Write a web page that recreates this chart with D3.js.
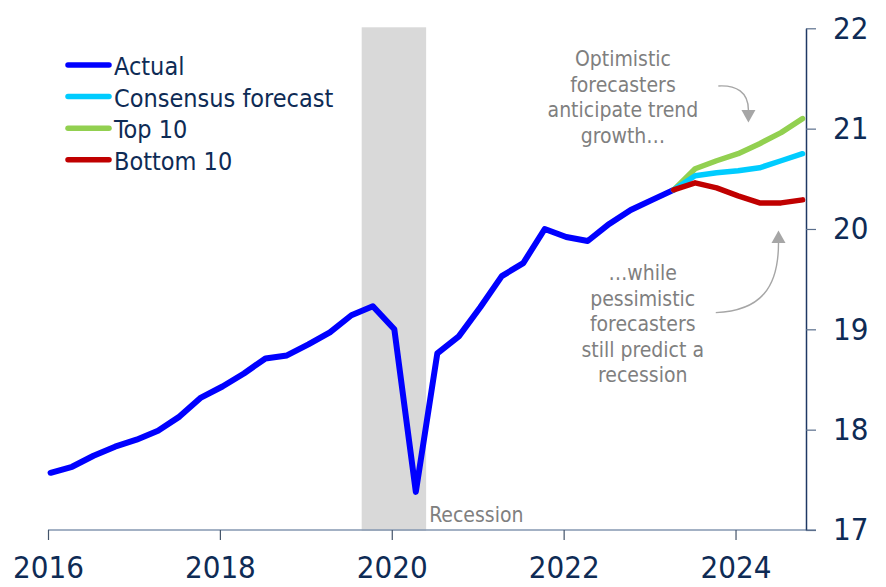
<!DOCTYPE html>
<html>
<head>
<meta charset="utf-8">
<script src="https://cdn.jsdelivr.net/npm/d3@7"></script>
<style>
  body { margin: 0; background: #fff; }
  svg text { font-family: "DejaVu Sans Condensed", "DejaVu Sans", sans-serif; font-stretch: condensed; }
</style>
</head>
<body>
<div id="run"></div>
<script>
var width = 886,
    height = 587;

// quarterly data, 2016Q1 .. 2023Q2 actual, 2023Q2 .. 2024Q4 forecasts
var actualQuarters = ["2016Q1","2016Q2","2016Q3","2016Q4","2017Q1","2017Q2","2017Q3","2017Q4",
    "2018Q1","2018Q2","2018Q3","2018Q4","2019Q1","2019Q2","2019Q3","2019Q4",
    "2020Q1","2020Q2","2020Q3","2020Q4","2021Q1","2021Q2","2021Q3","2021Q4",
    "2022Q1","2022Q2","2022Q3","2022Q4","2023Q1","2023Q2"];
var actual = [17.57, 17.63, 17.74, 17.83, 17.90, 17.99, 18.13, 18.32,
    18.43, 18.56, 18.71, 18.74, 18.85, 18.97, 19.14, 19.23,
    19.00, 17.38, 18.76, 18.93, 19.22, 19.53, 19.66, 20.00,
    19.92, 19.88, 20.05, 20.19, 20.29, 20.39];

var forecastQuarters = ["2023Q2","2023Q3","2023Q4","2024Q1","2024Q2","2024Q3","2024Q4"];
var top10     = [20.39, 20.60, 20.68, 20.75, 20.85, 20.96, 21.10];
var consensus = [20.39, 20.53, 20.56, 20.58, 20.61, 20.68, 20.75];
var bottom10  = [20.39, 20.46, 20.41, 20.33, 20.26, 20.26, 20.29];

var xTicks = [2016, 2018, 2020, 2022, 2024];
var yTicks = [17, 18, 19, 20, 21, 22];
var recession = [2019.65, 2020.40];

var seriesNames = ["Actual", "Consensus forecast", "Top 10", "Bottom 10"];
var seriesColors = ["#0000ff", "#00ccff", "#92d050", "#c00000"];

var topNote = ["Optimistic", "forecasters", "anticipate trend", "growth\u2026"];
var bottomNote = ["\u2026while", "pessimistic", "forecasters", "still predict a", "recession"];

function quarterToYear(q) {
    // points sit a little after the start of the quarter
    return +q.slice(0, 4) + (+q.slice(5) - 1) / 4 + 0.03;
}

var x = d3.scaleLinear().domain([2016, 2024.82]).range([48, 806]);
var y = d3.scaleLinear().domain([17, 22]).range([530, 28.3]);

var svg = d3.select("#run").append("svg")
    .attr("width", width)
    .attr("height", height);

// recession shading
svg.append("rect")
    .attr("x", x(recession[0]))
    .attr("y", y(22) - 1)
    .attr("width", x(recession[1]) - x(recession[0]))
    .attr("height", y(17) - y(22) + 2)
    .attr("fill", "#d9d9d9");

svg.append("text")
    .attr("x", x(recession[1]) + 3)
    .attr("y", y(17) - 8)
    .attr("font-size", 21)
    .attr("fill", "#7f7f7f")
    .text("Recession");

// axes
var xAxis = svg.append("g")
    .attr("transform", "translate(0," + y(17) + ")")
    .call(d3.axisBottom(x).tickValues(xTicks).tickFormat(d3.format("d"))
        .tickSize(10).tickSizeOuter(0).tickPadding(16));
xAxis.select(".domain").attr("stroke", "#8497b0").attr("stroke-width", 1.5)
    .attr("d", "M" + x(2016) + ",0H" + (x.range()[1] + 10));
xAxis.selectAll(".tick line").attr("stroke", "#44546a").attr("stroke-width", 1.2);
xAxis.selectAll(".tick text").attr("font-size", 31).attr("fill", "#0e2b55")
    .attr("font-family", "DejaVu Sans Condensed, DejaVu Sans, sans-serif");

var yAxis = svg.append("g")
    .attr("transform", "translate(" + x.range()[1] + ",0)")
    .call(d3.axisRight(y).tickValues(yTicks).tickFormat(d3.format("d"))
        .tickSize(10).tickSizeOuter(0).tickPadding(17));
yAxis.select(".domain").attr("stroke", "#1f3864").attr("stroke-width", 1.5);
yAxis.selectAll(".tick line").attr("stroke", "#5a6e8c").attr("stroke-width", 1.2);
yAxis.selectAll(".tick text").attr("font-size", 31).attr("fill", "#0e2b55")
    .attr("font-family", "DejaVu Sans Condensed, DejaVu Sans, sans-serif");

// lines
var line = d3.line()
    .x(function(d) { return x(d.t); })
    .y(function(d) { return y(d.v); });

function pack(quarters, values) {
    return quarters.map(function(q, i) { return { t: quarterToYear(q), v: values[i] }; });
}

var drawn = [
    { data: pack(actualQuarters, actual), color: seriesColors[0], w: 6 },
    { data: pack(forecastQuarters, top10), color: seriesColors[2], w: 5.5 },
    { data: pack(forecastQuarters, consensus), color: seriesColors[1], w: 5.5 },
    { data: pack(forecastQuarters, bottom10), color: seriesColors[3], w: 5.5 }
];

svg.selectAll("path.series")
    .data(drawn)
    .enter().append("path")
    .attr("class", "series")
    .attr("d", function(d) { return line(d.data); })
    .attr("fill", "none")
    .attr("stroke", function(d) { return d.color; })
    .attr("stroke-width", function(d) { return d.w; })
    .attr("stroke-linecap", "round")
    .attr("stroke-linejoin", "round");

// legend
var legend = svg.append("g").attr("transform", "translate(68,65)");
var item = legend.selectAll("g")
    .data(seriesNames)
    .enter().append("g")
    .attr("transform", function(d, i) { return "translate(0," + (i * 31.6) + ")"; });
item.append("line")
    .attr("x1", 0).attr("x2", 41)
    .attr("stroke", function(d, i) { return seriesColors[i]; })
    .attr("stroke-width", 5.5)
    .attr("stroke-linecap", "round");
item.append("text")
    .attr("x", 46).attr("y", 10)
    .attr("font-size", 25)
    .attr("fill", "#0e2b55")
    .text(function(d) { return d; });

// annotations
function note(lines, cx, baseY) {
    svg.append("text")
        .attr("x", x(cx)).attr("y", y(baseY))
        .attr("text-anchor", "middle")
        .attr("font-size", 21)
        .attr("fill", "#7f7f7f")
        .selectAll("tspan")
        .data(lines)
        .enter().append("tspan")
        .attr("x", x(cx))
        .attr("dy", function(d, i) { return i ? 25.5 : 0; })
        .text(function(d) { return d; });
}
note(topNote, 2022.69, 21.62);
note(bottomNote, 2022.92, 19.49);

var arrowColor = "#a6a6a6";
function arrow(from, to, pathFn, dir) {
    var sx = x(from[0]), sy = y(from[1]), tx = x(to[0]), ty = y(to[1]);
    var by = ty - dir * 12.5;
    svg.append("path")
        .attr("d", pathFn(sx, sy, tx, by))
        .attr("fill", "none")
        .attr("stroke", arrowColor)
        .attr("stroke-width", 1.4);
    svg.append("path")
        .attr("d", "M" + (tx - 7) + "," + by + "L" + (tx + 7) + "," + by + "L" + tx + "," + ty + "Z")
        .attr("fill", arrowColor);
}
arrow([2023.8, 21.425], [2024.15, 21.06], function(sx, sy, tx, by) {
    return "M" + sx + "," + sy + "C" + (sx + 18) + "," + (sy - 1) + " " + tx + "," + (sy + 6) + " " + tx + "," + by;
}, 1);
arrow([2023.77, 19.166], [2024.5, 19.985], function(sx, sy, tx, by) {
    return "M" + sx + "," + sy + "C" + (sx + 45) + "," + (sy - 2) + " " + tx + "," + (sy - 25) + " " + tx + "," + by;
}, -1);
</script>
</body>
</html>
